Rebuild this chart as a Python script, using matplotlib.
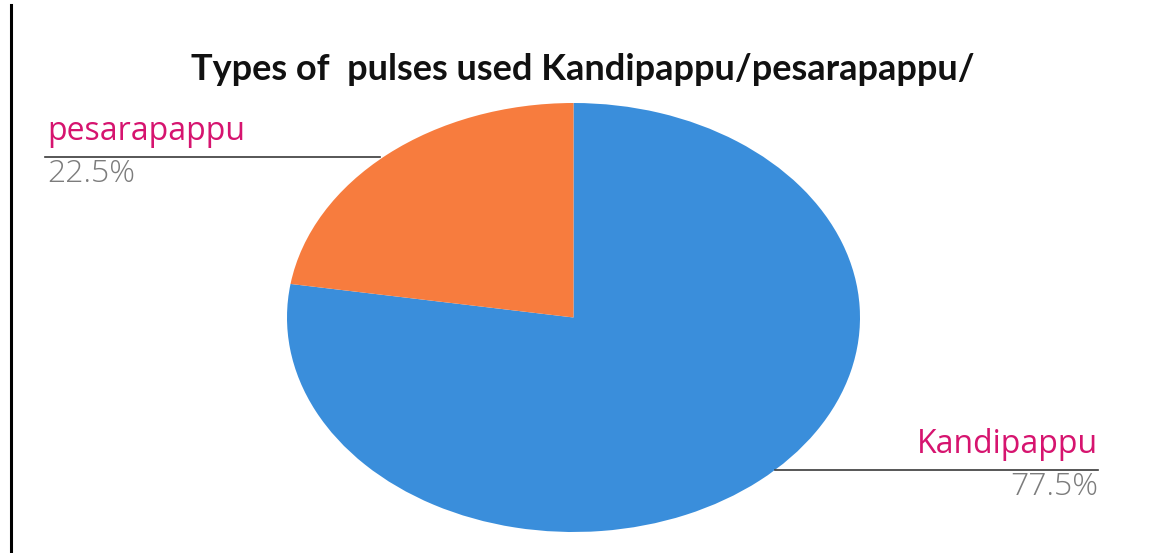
import matplotlib.pyplot as plt

# data
labels = ['Kandipappu', 'pesarapappu']
values = [77.5, 22.5]
colors = ['#3a8edb', '#f77c3e']

title = 'Types of  pulses used Kandipappu/pesarapappu/'

fig = plt.figure(figsize=(11.52, 5.53), dpi=100)
fig.patch.set_facecolor('white')

# pie axes stretched to the ellipse box (pixels 287..860 x 103..532)
W, H = 1152, 553
ax = fig.add_axes([287 / W, 1 - 532 / H, 573 / W, 429 / H])
ax.pie(values, colors=colors, startangle=90, counterclock=False,
       wedgeprops=dict(linewidth=0))
ax.set_aspect('auto')
ax.set_xlim(-1, 1)
ax.set_ylim(-1, 1)
ax.axis('off')

# overlay in pixel coordinates for labels and lines
ov = fig.add_axes([0, 0, 1, 1], zorder=5)
ov.set_xlim(0, W)
ov.set_ylim(H, 0)
ov.axis('off')
ov.patch.set_alpha(0)

ov.plot([11, 11], [5, 553], color='black', lw=2.2)

ov.text(583, 69, title, ha='center', va='center', fontsize=26,
        fontweight='bold', family='Lato', color='#111111')

# leader lines + labels
place = {
    'pesarapappu': dict(x0=45, x1=380, y=157, ha='left', tx=47),
    'Kandipappu': dict(x0=775, x1=1098, y=470, ha='right', tx=1098),
}
for lab, val in zip(labels, values):
    p = place[lab]
    ov.plot([p['x0'], p['x1']], [p['y'], p['y']], color='#3a3a3a', lw=1.2)
    ov.text(p['tx'], p['y'] - 17, lab, ha=p['ha'], va='baseline', fontsize=23,
            family='Open Sans', color='#d6146f')
    ov.text(p['tx'], p['y'] + 1, f'{val}%', ha=p['ha'], va='top', fontsize=23,
            family='Open Sans', fontweight='light', color='#7c7c7c')

fig.savefig('out.png', dpi=100, facecolor='white')
